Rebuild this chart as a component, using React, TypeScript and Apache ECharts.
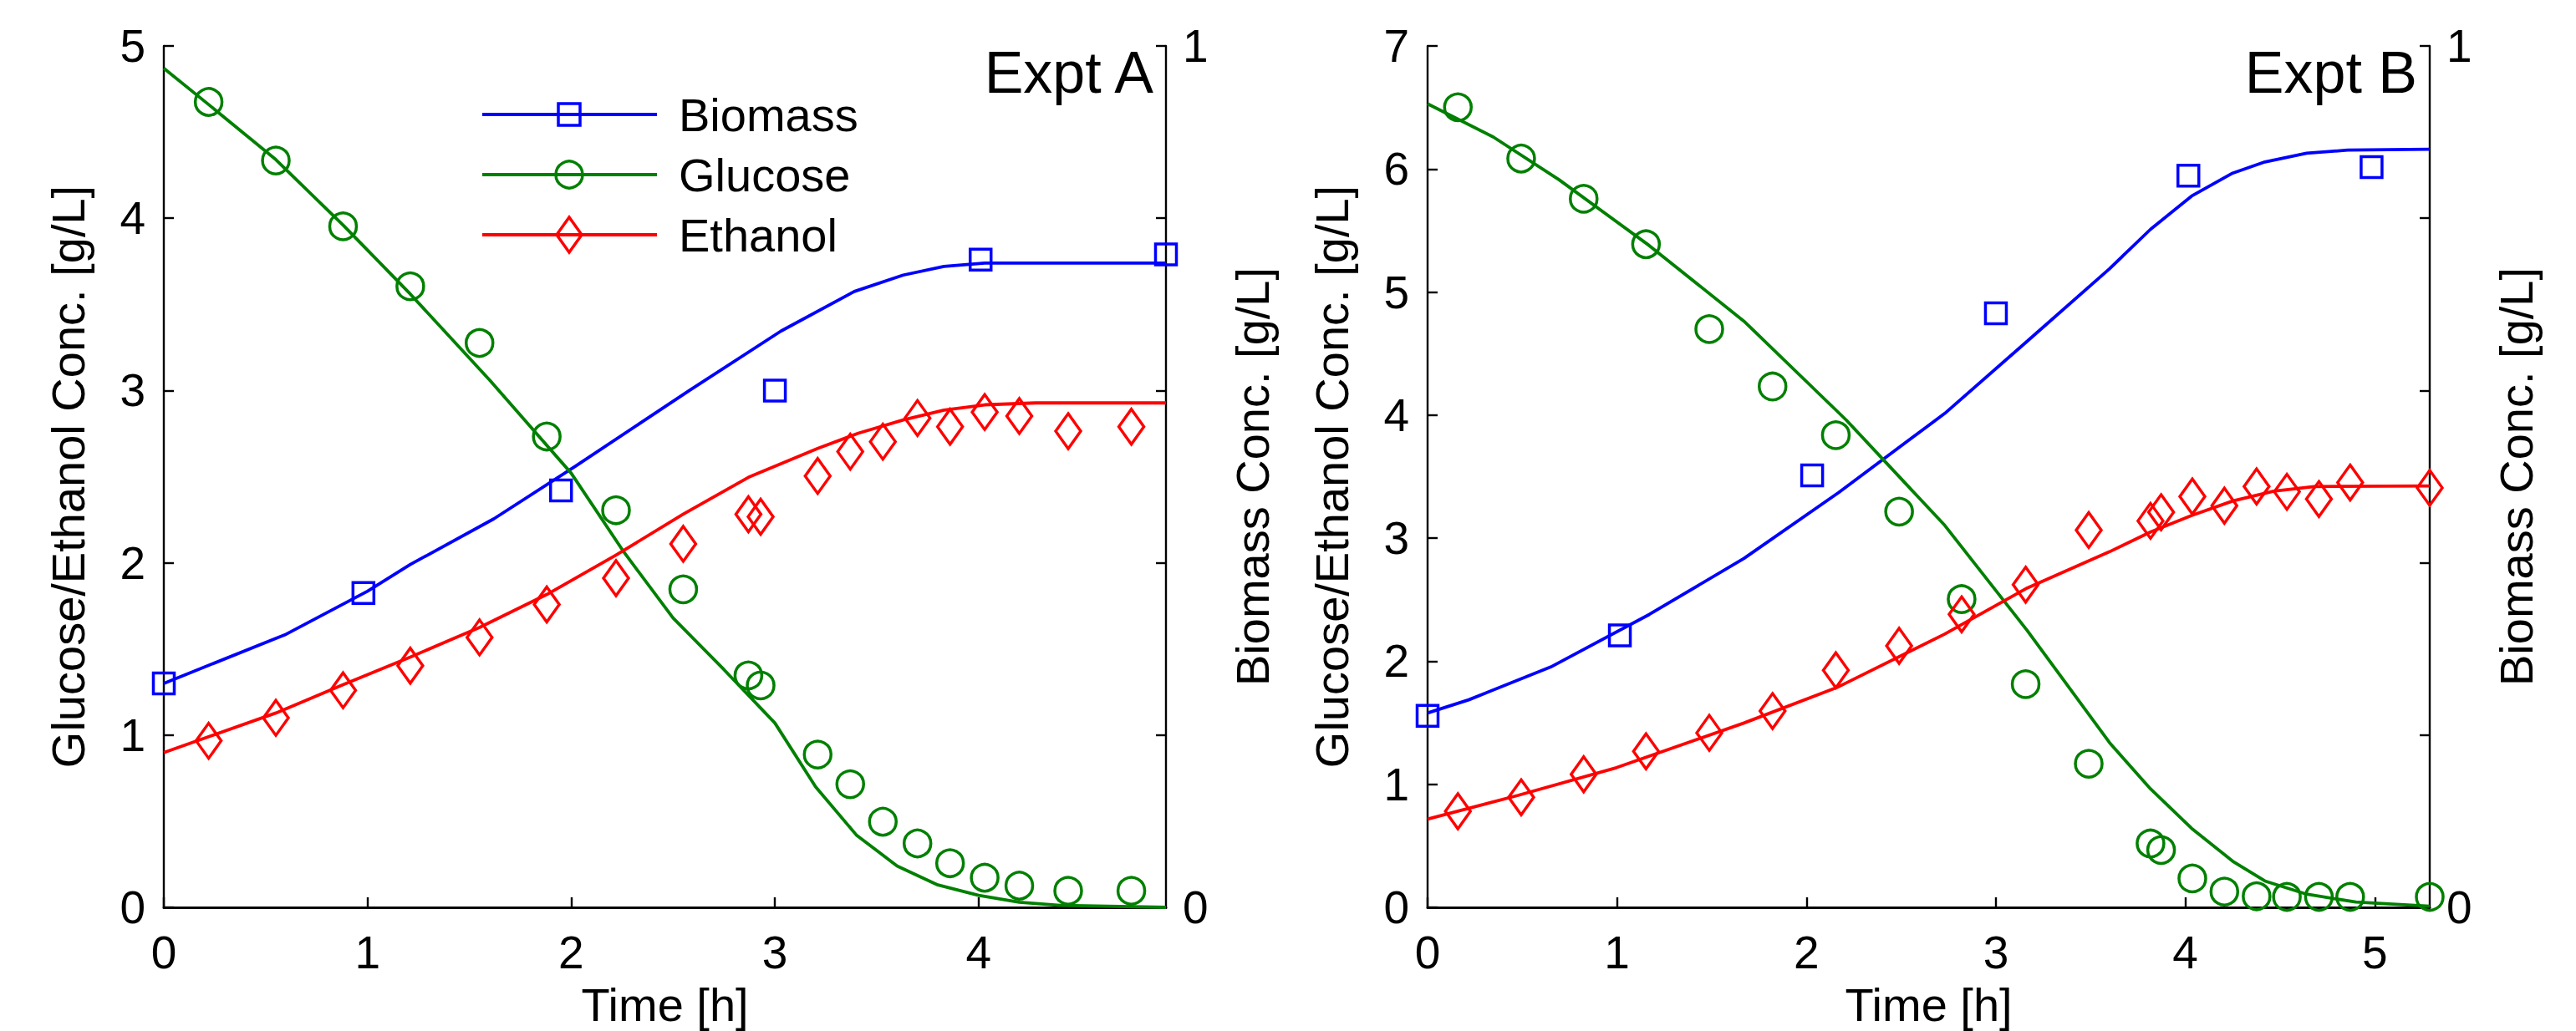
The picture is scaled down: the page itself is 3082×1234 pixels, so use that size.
import React, { useEffect, useRef } from "react";
import * as echarts from "echarts";

const FONT = "'Liberation Sans', Arial, Helvetica, sans-serif";
const BLUE = "#0000ff";
const GREEN = "#008000";
const RED = "#ff0000";

// ---------- Expt A ----------
const aTimeMax = 4.92;
const aBiomassT = [0, 0.98, 1.95, 3.0, 4.01, 4.92];
const aBiomass = [0.26, 0.365, 0.484, 0.6, 0.752, 0.758];
const aSampleT = [0.22, 0.55, 0.88, 1.21, 1.55, 1.88, 2.22, 2.55, 2.87, 2.93, 3.21, 3.37, 3.53, 3.7, 3.86, 4.03, 4.2, 4.44, 4.75];
const aGlucose = [4.675, 4.335, 3.953, 3.605, 3.276, 2.733, 2.305, 1.846, 1.346, 1.288, 0.887, 0.715, 0.497, 0.371, 0.256, 0.172, 0.126, 0.096, 0.096];
const aEthanol = [0.967, 1.1, 1.26, 1.403, 1.567, 1.758, 1.911, 2.11, 2.282, 2.267, 2.504, 2.645, 2.703, 2.84, 2.79, 2.875, 2.852, 2.764, 2.79];

const aBiomassFitT = [0, 0.6, 1.0, 1.21, 1.62, 2.02, 2.58, 3.03, 3.39, 3.63, 3.83, 4.03, 4.92];
const aBiomassFit = [0.26, 0.317, 0.367, 0.398, 0.451, 0.512, 0.6, 0.669, 0.715, 0.734, 0.744, 0.748, 0.748];
const aGlucoseFitT = [0, 0.22, 0.55, 0.88, 1.21, 1.6, 2.0, 2.26, 2.5, 2.75, 3.0, 3.2, 3.4, 3.6, 3.8, 4.0, 4.2, 4.4, 4.92];
const aGlucoseFit = [4.87, 4.66, 4.34, 3.96, 3.56, 3.06, 2.52, 2.06, 1.68, 1.38, 1.07, 0.7, 0.42, 0.24, 0.13, 0.07, 0.03, 0.012, 0];
const aEthanolFitT = [0, 0.55, 0.88, 1.21, 1.55, 1.88, 2.22, 2.55, 2.87, 3.21, 3.41, 3.63, 3.83, 4.03, 4.28, 4.92];
const aEthanolFit = [0.898, 1.128, 1.292, 1.453, 1.625, 1.816, 2.045, 2.282, 2.496, 2.664, 2.752, 2.829, 2.886, 2.917, 2.928, 2.928];

// ---------- Expt B ----------
const bTimeMax = 5.29;
const bBiomassT = [0, 1.015, 2.03, 3.0, 4.016, 4.983];
const bBiomass = [0.2224, 0.3157, 0.5014, 0.6896, 0.8494, 0.8593];
const bSampleT = [0.16, 0.494, 0.824, 1.153, 1.487, 1.821, 2.155, 2.489, 2.819, 3.157, 3.49, 3.816, 3.872, 4.037, 4.206, 4.376, 4.536, 4.705, 4.87, 5.29];
const bGlucose = [6.502, 6.085, 5.758, 5.389, 4.699, 4.233, 3.837, 3.216, 2.505, 1.814, 1.167, 0.519, 0.466, 0.235, 0.128, 0.09, 0.085, 0.085, 0.085, 0.085];
const bEthanol = [0.781, 0.894, 1.081, 1.268, 1.418, 1.595, 1.927, 2.125, 2.381, 2.622, 3.066, 3.141, 3.211, 3.339, 3.264, 3.42, 3.377, 3.318, 3.452, 3.409];

const bBiomassFitT = [0, 0.217, 0.65, 1.17, 1.67, 2.17, 2.73, 3.166, 3.6, 3.816, 4.033, 4.25, 4.42, 4.64, 4.857, 5.29];
const bBiomassFit = [0.2256, 0.2409, 0.279, 0.34, 0.4051, 0.4816, 0.5734, 0.6574, 0.7414, 0.7871, 0.8257, 0.8524, 0.8654, 0.8754, 0.8791, 0.88];
const bGlucoseFitT = [0, 0.347, 0.694, 1.17, 1.67, 2.21, 2.73, 3.166, 3.6, 3.816, 4.033, 4.25, 4.42, 4.64, 4.9, 5.29];
const bGlucoseFit = [6.53, 6.26, 5.913, 5.378, 4.763, 3.96, 3.104, 2.248, 1.338, 0.963, 0.642, 0.375, 0.214, 0.107, 0.043, 0.01];
const bEthanolFitT = [0, 0.477, 0.997, 1.67, 2.17, 2.73, 3.166, 3.6, 3.816, 4.033, 4.25, 4.466, 4.68, 5.29];
const bEthanolFit = [0.717, 0.91, 1.135, 1.498, 1.793, 2.221, 2.596, 2.89, 3.05, 3.184, 3.302, 3.382, 3.42, 3.425];

const legendNames = ["Biomass", "Glucose", "Ethanol"];

const pairs = (xs: number[], ys: number[]) => xs.map((x, i) => [x, ys[i]]);

const black = "#000";

function timeAxis(gridIndex: number, max: number) {
  return {
    type: "value",
    gridIndex,
    min: 0,
    max,
    interval: 1,
    name: "Time [h]",
    nameLocation: "middle",
    nameGap: 88,
    nameMoveOverlap: false,
    nameTextStyle: { fontSize: 56, color: black, fontFamily: FONT },
    axisLine: { show: true, onZero: false, lineStyle: { color: black, width: 3 } },
    axisTick: { show: true, inside: true, length: 12, lineStyle: { color: black, width: 2.4 } },
    axisLabel: {
      fontSize: 55,
      color: black,
      fontFamily: FONT,
      margin: 26,
      showMaxLabel: false,
      formatter: (v: number) => (Math.abs(v - Math.round(v)) < 1e-9 ? String(Math.round(v)) : ""),
    },
    splitLine: { show: false },
  };
}

function concAxis(gridIndex: number, max: number) {
  return {
    type: "value",
    gridIndex,
    position: "left",
    min: 0,
    max,
    interval: 1,
    name: "Glucose/Ethanol Conc. [g/L]",
    nameLocation: "middle",
    nameRotate: 90,
    nameGap: 87,
    nameMoveOverlap: false,
    nameTextStyle: { fontSize: 56, color: black, fontFamily: FONT },
    axisLine: { show: true, onZero: false, lineStyle: { color: black, width: 2.4 } },
    axisTick: { show: true, inside: true, length: 12, lineStyle: { color: black, width: 2.4 } },
    axisLabel: { fontSize: 55, color: black, fontFamily: FONT, margin: 22 },
    splitLine: { show: false },
  };
}

function biomassAxis(gridIndex: number) {
  return {
    type: "value",
    gridIndex,
    position: "right",
    min: 0,
    max: 1,
    interval: 0.2,
    name: "Biomass Conc. [g/L]",
    nameLocation: "middle",
    nameRotate: 90,
    nameGap: 75,
    nameMoveOverlap: false,
    nameTextStyle: { fontSize: 56, color: black, fontFamily: FONT },
    axisLine: { show: true, onZero: false, lineStyle: { color: black, width: 2.4 } },
    axisTick: { show: true, inside: true, length: 12, lineStyle: { color: black, width: 2.4 } },
    axisLabel: {
      fontSize: 55,
      color: black,
      fontFamily: FONT,
      margin: 20,
      formatter: (v: number) => (Math.abs(v) < 1e-9 ? "0" : Math.abs(v - 1) < 1e-9 ? "1" : ""),
    },
    splitLine: { show: false },
  };
}

function fitLine(name: string, xi: number, yi: number, data: number[][], color: string) {
  return {
    type: "line",
    name,
    xAxisIndex: xi,
    yAxisIndex: yi,
    data,
    symbol: "none",
    showSymbol: false,
    smooth: false,
    clip: false,
    silent: true,
    lineStyle: { color, width: 3.8 },
    z: 2,
  };
}

function points(name: string, xi: number, yi: number, data: number[][], color: string, symbol: string, size: any) {
  return {
    type: "scatter",
    name,
    xAxisIndex: xi,
    yAxisIndex: yi,
    data,
    symbol,
    symbolSize: size,
    clip: false,
    silent: true,
    itemStyle: { color: "rgba(0,0,0,0)", borderColor: color, borderWidth: 3.5, opacity: 1 },
    z: 3,
  };
}

// legend drawn as line + marker + label
function legendGraphic() {
  const x0 = 577;
  const x1 = 786;
  const mx = 681;
  const ys = [137, 209, 281];
  const colors = [BLUE, GREEN, RED];
  const els: any[] = [];
  ys.forEach((y, i) => {
    els.push({
      type: "line",
      shape: { x1: x0, y1: y, x2: x1, y2: y },
      style: { stroke: colors[i], lineWidth: 3.8 },
    });
    const ms = { fill: "none", stroke: colors[i], lineWidth: 3.5 };
    if (i === 0) {
      els.push({ type: "rect", shape: { x: mx - 13, y: y - 13, width: 26, height: 26 }, style: ms });
    } else if (i === 1) {
      els.push({ type: "circle", shape: { cx: mx, cy: y, r: 16 }, style: ms });
    } else {
      els.push({
        type: "polygon",
        shape: { points: [[mx, y - 21], [mx + 15, y], [mx, y + 21], [mx - 15, y]] },
        style: ms,
      });
    }
    els.push({
      type: "text",
      x: 812,
      y,
      style: { text: legendNames[i], fontSize: 56, fontFamily: FONT, fill: black, align: "left", verticalAlign: "middle" },
    });
  });
  return els;
}

export default function App() {
  const ref = useRef<HTMLDivElement>(null);

  useEffect(() => {
    document.body.style.margin = "0";
    if (!ref.current) return;
    const chart = echarts.init(ref.current, null, { renderer: "svg" });

    const option: any = {
      animation: false,
      backgroundColor: "#fff",
      textStyle: { fontFamily: FONT },
      grid: [
        { left: 196, top: 55, width: 1199, height: 1031, containLabel: false, outerBoundsMode: "none" },
        { left: 1708, top: 55, width: 1199, height: 1031, containLabel: false, outerBoundsMode: "none" },
      ],
      xAxis: [timeAxis(0, aTimeMax), timeAxis(1, bTimeMax)],
      yAxis: [concAxis(0, 5), biomassAxis(0), concAxis(1, 7), biomassAxis(1)],
      series: [
        fitLine("Biomass", 0, 1, pairs(aBiomassFitT, aBiomassFit), BLUE),
        fitLine("Glucose", 0, 0, pairs(aGlucoseFitT, aGlucoseFit), GREEN),
        fitLine("Ethanol", 0, 0, pairs(aEthanolFitT, aEthanolFit), RED),
        points("Biomass", 0, 1, pairs(aBiomassT, aBiomass), BLUE, "rect", 25),
        points("Glucose", 0, 0, pairs(aSampleT, aGlucose), GREEN, "circle", 32),
        points("Ethanol", 0, 0, pairs(aSampleT, aEthanol), RED, "diamond", [30, 42]),

        fitLine("Biomass", 1, 3, pairs(bBiomassFitT, bBiomassFit), BLUE),
        fitLine("Glucose", 1, 2, pairs(bGlucoseFitT, bGlucoseFit), GREEN),
        fitLine("Ethanol", 1, 2, pairs(bEthanolFitT, bEthanolFit), RED),
        points("Biomass", 1, 3, pairs(bBiomassT, bBiomass), BLUE, "rect", 25),
        points("Glucose", 1, 2, pairs(bSampleT, bGlucose), GREEN, "circle", 32),
        points("Ethanol", 1, 2, pairs(bSampleT, bEthanol), RED, "diamond", [30, 42]),
      ],
      graphic: [
        {
          type: "text",
          x: 1380,
          y: 87,
          style: { text: "Expt A", fontSize: 70, fontFamily: FONT, fill: black, align: "right", verticalAlign: "middle" },
        },
        {
          type: "text",
          x: 2892,
          y: 87,
          style: { text: "Expt B", fontSize: 70, fontFamily: FONT, fill: black, align: "right", verticalAlign: "middle" },
        },
        ...legendGraphic(),
      ],
    };

    chart.setOption(option);
    return () => chart.dispose();
  }, []);

  return (
    <div
      ref={ref}
      style={{ position: "absolute", left: 0, top: 0, width: 3082, height: 1234, background: "#fff" }}
    />
  );
}
